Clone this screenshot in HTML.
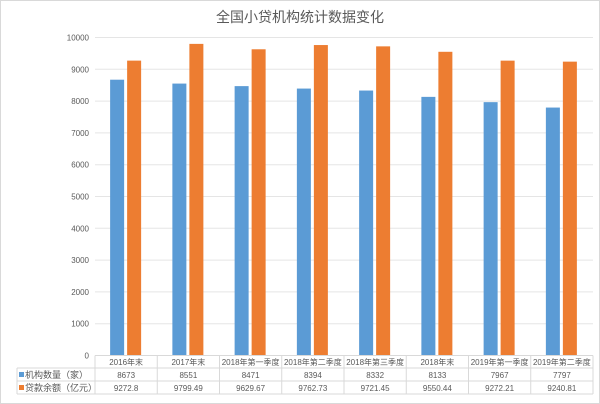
<!DOCTYPE html><html><head><meta charset="utf-8"><style>body{margin:0;background:#fff}svg{display:block}text{font-family:"Liberation Sans","Noto Sans CJK SC",sans-serif}</style></head><body>
<svg width="600" height="404" xmlns="http://www.w3.org/2000/svg">
<rect x="0.5" y="0.5" width="599" height="403" fill="#fff" stroke="#d9d9d9"/>
<text x="300" y="22" text-anchor="middle" font-size="14" fill="#595959">全国小贷机构统计数据变化</text>
<g id="g"></g>
</svg>
<script>
const g=document.getElementById('g');let s='';
const y0=355.5,k=0.0318,x0=95,cw=62.25;
for(let i=0;i<=10;i++){const y=y0-i*1000*k;if(i>0)s+=`<line x1="${x0}" x2="593" y1="${y}" y2="${y}" stroke="#e5e5e5"/>`;s+=`<text x="${x0-6}" y="${y+3}" text-anchor="end" font-size="8" fill="#595959">${i*1000}</text>`;}
const c=["2016年末","2017年末","2018年第一季度","2018年第二季度","2018年第三季度","2018年末","2019年第一季度","2019年第二季度"];
const a=[8673,8551,8471,8394,8332,8133,7967,7797];
const b=["9272.8","9799.49","9629.67","9762.73","9721.45","9550.44","9272.21","9240.81"];
for(let i=0;i<8;i++){const cx=x0+cw*i+cw/2;
s+=`<rect x="${cx-16}" y="${y0-a[i]*k}" width="14" height="${a[i]*k}" fill="#5b9bd5"/>`;
s+=`<rect x="${cx+1}" y="${y0-b[i]*k}" width="14" height="${b[i]*k}" fill="#ed7d31"/>`;
s+=`<text x="${cx}" y="365" text-anchor="middle" font-size="8" fill="#595959">${c[i]}</text>`;
s+=`<text x="${cx}" y="378" text-anchor="middle" font-size="8" fill="#595959">${a[i]}</text>`;
s+=`<text x="${cx}" y="391" text-anchor="middle" font-size="8" fill="#595959">${b[i]}</text>`;}
for(let i=0;i<=8;i++){const x=x0+cw*i;s+=`<line x1="${x}" x2="${x}" y1="${y0}" y2="394" stroke="#d9d9d9"/>`;}
s+=`<line x1="${x0}" x2="593" y1="${y0}" y2="${y0}" stroke="#d9d9d9"/>`;
s+=`<line x1="17" x2="593" y1="368" y2="368" stroke="#d9d9d9"/><line x1="17" x2="593" y1="381" y2="381" stroke="#d9d9d9"/><line x1="17" x2="593" y1="394" y2="394" stroke="#d9d9d9"/><line x1="17" x2="17" y1="368" y2="394" stroke="#d9d9d9"/>`;
s+=`<rect x="19" y="372" width="5" height="5" fill="#5b9bd5"/><text x="25" y="378" font-size="9" fill="#595959">机构数量（家）</text>`;
s+=`<rect x="19" y="385" width="5" height="5" fill="#ed7d31"/><text x="25" y="391" font-size="9" fill="#595959">贷款余额（亿元）</text>`;
g.innerHTML=s;
</script></body></html>
